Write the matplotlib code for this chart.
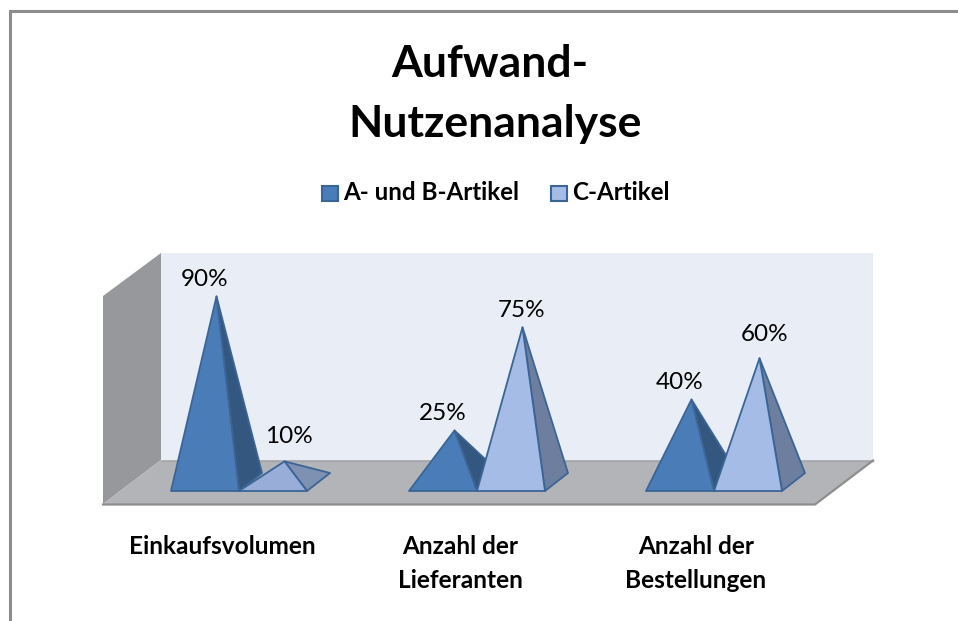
import matplotlib.pyplot as plt
from matplotlib.patches import Polygon

categories = [['Einkaufsvolumen'], ['Anzahl der', 'Lieferanten'], ['Anzahl der', 'Bestellungen']]
series_names = ['A- und B-Artikel', 'C-Artikel']
a_values = [90, 25, 40]
c_values = [10, 75, 60]

plt.rcParams['font.family'] = ['Lato', 'DejaVu Sans']

# layout in pixels of the original picture
base_y = 491
px_per_pct = 2.0625
width = 68
depth_x, depth_y = 23, -18
group_x = [171, 409, 646]
cat_x = [222, 460, 696]
a_label_dx = [-12, -12, -12]
a_label_dy = [-17, -17, -17]
c_label_dx = [4, -1, 5]
c_label_dy = [-25, -17, -24]

a_front, a_side = '#4A7DB8', '#33577F'
c_fronts = ['#98AED8', '#A5BCE6', '#A5BCE6']
c_sides = ['#7F91B3', '#6D7E9F', '#6D7E9F']
edge = '#3A6596'

fig = plt.figure(figsize=(9.58, 6.21), dpi=100)
ax = fig.add_axes([0, 0, 1, 1])
ax.set_xlim(0, 958)
ax.set_ylim(621, 0)
ax.axis('off')

# outer border
ax.plot([10, 10, 958], [621, 11, 11], color='#8C8C8C', lw=2.2, solid_joinstyle='miter')

# walls and floor
ax.add_patch(Polygon([(161, 253), (873, 253), (873, 460), (161, 460)], fc='#E9EDF6', ec='none', zorder=0.2))
ax.add_patch(Polygon([(103, 296), (161, 253), (161, 460), (103, 504)], fc='#96989B', ec='none', zorder=0.2))
ax.add_patch(Polygon([(161, 460), (873, 460), (815, 504), (103, 504)], fc='#B2B4B7', ec='none', zorder=0.2))
ax.plot([161, 873], [460.5, 460.5], color='#A4A6A9', lw=1.0, zorder=0.3)
ax.plot([103, 815, 873], [504.5, 504.5, 460.5], color='#8E8E8E', lw=1.6, zorder=0.3)


def pyramid(x0, value, front, side):
    # apex sits over the centre of the base
    apex = (x0 + width / 2 + depth_x / 2, base_y + depth_y / 2 - value * px_per_pct)
    left = (x0, base_y)
    right = (x0 + width, base_y)
    back = (x0 + width + depth_x, base_y + depth_y)
    ax.add_patch(Polygon([right, back, apex], fc=side, ec=edge, lw=1.3, joinstyle='round'))
    ax.add_patch(Polygon([left, right, apex], fc=front, ec=edge, lw=1.3, joinstyle='round'))
    return apex


for i in range(len(categories)):
    apex_a = pyramid(group_x[i], a_values[i], a_front, a_side)
    apex_c = pyramid(group_x[i] + width, c_values[i], c_fronts[i], c_sides[i])
    ax.text(apex_a[0] + a_label_dx[i], apex_a[1] + a_label_dy[i], f'{a_values[i]}%',
            ha='center', va='center', fontsize=17.5, color='black')
    ax.text(apex_c[0] + c_label_dx[i], apex_c[1] + c_label_dy[i], f'{c_values[i]}%',
            ha='center', va='center', fontsize=17.5, color='black')
    for j, line in enumerate(categories[i]):
        ax.text(cat_x[i], 547 + j * 34, line, ha='center', va='center',
                fontsize=17.6, fontweight='bold', color='black')

# title
ax.text(489.5, 64, 'Aufwand-', ha='center', va='center', fontsize=32, fontweight='bold')
ax.text(495.5, 124, 'Nutzenanalyse', ha='center', va='center', fontsize=32, fontweight='bold')

# legend
for sx, tx, name, col in [(322, 343, series_names[0], a_front), (551, 572, series_names[1], c_fronts[1])]:
    ax.add_patch(Polygon([(sx, 186), (sx + 16, 186), (sx + 16, 201), (sx, 201)], fc=col, ec=edge, lw=1.5))
    ax.text(tx, 193, name, ha='left', va='center', fontsize=17.4, fontweight='bold')

fig.savefig('out.png', dpi=100)
